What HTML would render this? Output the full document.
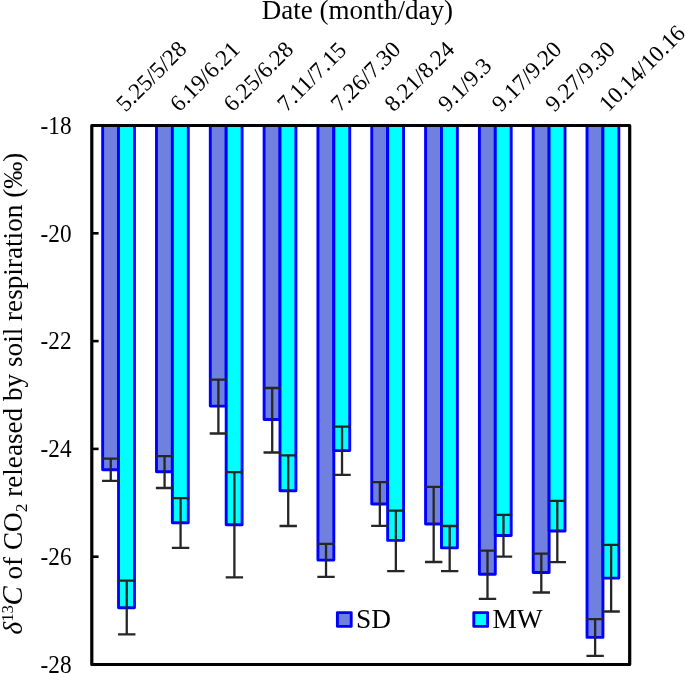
<!DOCTYPE html>
<html><head><meta charset="utf-8"><title>chart</title>
<style>
html,body{margin:0;padding:0;background:#fff;}
body{width:685px;height:673px;overflow:hidden;}
svg{display:block;will-change:transform;}
svg text{font-family:"Liberation Serif",serif;fill:#000;}
</style></head><body>
<svg width="685" height="673" viewBox="0 0 685 673">
<rect x="0" y="0" width="685" height="673" fill="#fff"/>
<g stroke="#0000FF" stroke-width="2.9" stroke-linejoin="round">
<rect x="102.65" y="125.50" width="15.90" height="344.20" fill="#7080DF"/>
<rect x="118.55" y="125.50" width="15.90" height="482.30" fill="#00FFFF"/>
<rect x="156.47" y="125.50" width="15.90" height="346.30" fill="#7080DF"/>
<rect x="172.37" y="125.50" width="15.90" height="397.20" fill="#00FFFF"/>
<rect x="210.29" y="125.50" width="15.90" height="280.60" fill="#7080DF"/>
<rect x="226.19" y="125.50" width="15.90" height="399.20" fill="#00FFFF"/>
<rect x="264.11" y="125.50" width="15.90" height="294.00" fill="#7080DF"/>
<rect x="280.01" y="125.50" width="15.90" height="365.25" fill="#00FFFF"/>
<rect x="317.93" y="125.50" width="15.90" height="434.60" fill="#7080DF"/>
<rect x="333.83" y="125.50" width="15.90" height="325.10" fill="#00FFFF"/>
<rect x="371.75" y="125.50" width="15.90" height="378.50" fill="#7080DF"/>
<rect x="387.65" y="125.50" width="15.90" height="414.90" fill="#00FFFF"/>
<rect x="425.57" y="125.50" width="15.90" height="398.50" fill="#7080DF"/>
<rect x="441.47" y="125.50" width="15.90" height="422.40" fill="#00FFFF"/>
<rect x="479.39" y="125.50" width="15.90" height="448.80" fill="#7080DF"/>
<rect x="495.29" y="125.50" width="15.90" height="410.00" fill="#00FFFF"/>
<rect x="533.21" y="125.50" width="15.90" height="447.00" fill="#7080DF"/>
<rect x="549.11" y="125.50" width="15.90" height="405.50" fill="#00FFFF"/>
<rect x="587.03" y="125.50" width="15.90" height="511.90" fill="#7080DF"/>
<rect x="602.93" y="125.50" width="15.90" height="452.60" fill="#00FFFF"/>
</g>
<g stroke="#262626" stroke-width="2.3" fill="none">
<path d="M102.05 458.70H119.45M102.05 480.80H119.45M110.75 458.70V480.80"/>
<path d="M118.05 580.70H135.45M118.05 634.40H135.45M126.75 580.70V634.40"/>
<path d="M155.87 456.05H173.27M155.87 488.00H173.27M164.57 456.05V488.00"/>
<path d="M171.87 498.10H189.27M171.87 547.90H189.27M180.57 498.10V547.90"/>
<path d="M209.69 379.60H227.09M209.69 433.50H227.09M218.39 379.60V433.50"/>
<path d="M225.69 472.10H243.09M225.69 577.30H243.09M234.39 472.10V577.30"/>
<path d="M263.51 388.00H280.91M263.51 452.50H280.91M272.21 388.00V452.50"/>
<path d="M279.51 455.35H296.91M279.51 526.00H296.91M288.21 455.35V526.00"/>
<path d="M317.33 543.80H334.73M317.33 576.80H334.73M326.03 543.80V576.80"/>
<path d="M333.33 426.60H350.73M333.33 474.90H350.73M342.03 426.60V474.90"/>
<path d="M371.15 482.20H388.55M371.15 525.80H388.55M379.85 482.20V525.80"/>
<path d="M387.15 510.70H404.55M387.15 571.10H404.55M395.85 510.70V571.10"/>
<path d="M424.97 486.80H442.37M424.97 562.00H442.37M433.67 486.80V562.00"/>
<path d="M440.97 526.00H458.37M440.97 571.10H458.37M449.67 526.00V571.10"/>
<path d="M478.79 550.60H496.19M478.79 598.90H496.19M487.49 550.60V598.90"/>
<path d="M494.79 514.80H512.19M494.79 556.70H512.19M503.49 514.80V556.70"/>
<path d="M532.61 553.60H550.01M532.61 592.50H550.01M541.31 553.60V592.50"/>
<path d="M548.61 500.90H566.01M548.61 562.20H566.01M557.31 500.90V562.20"/>
<path d="M586.43 619.06H603.83M586.43 655.80H603.83M595.13 619.06V655.80"/>
<path d="M602.43 544.90H619.83M602.43 611.50H619.83M611.13 544.90V611.50"/>
</g>
<rect x="91.80" y="125.50" width="537.90" height="539.00" fill="none" stroke="#000" stroke-width="3.2" stroke-linejoin="round"/>
<g stroke="#000" stroke-width="2.6">
<path d="M91.80 125.50H98.60"/>
<path d="M91.80 233.30H98.60"/>
<path d="M91.80 341.10H98.60"/>
<path d="M91.80 448.90H98.60"/>
<path d="M91.80 556.70H98.60"/>
<path d="M91.80 664.50H98.60"/>
</g>
<g font-size="24" text-anchor="end">
<text transform="translate(71.6 133.70) scale(0.968 1.06)">-18</text>
<text transform="translate(71.6 241.50) scale(0.968 1.06)">-20</text>
<text transform="translate(71.6 349.30) scale(0.968 1.06)">-22</text>
<text transform="translate(71.6 457.10) scale(0.968 1.06)">-24</text>
<text transform="translate(71.6 564.90) scale(0.968 1.06)">-26</text>
<text transform="translate(71.6 672.70) scale(0.968 1.06)">-28</text>
</g>
<g font-size="23.2">
<text transform="translate(125.55 112.80) rotate(-45)">5.25/5/28</text>
<text transform="translate(179.18 112.80) rotate(-45)">6.19/6.21</text>
<text transform="translate(232.81 112.80) rotate(-45)">6.25/6.28</text>
<text transform="translate(286.44 112.80) rotate(-45)">7.11/7.15</text>
<text transform="translate(340.07 112.80) rotate(-45)">7.26/7.30</text>
<text transform="translate(393.70 112.80) rotate(-45)">8.21/8.24</text>
<text transform="translate(447.33 112.80) rotate(-45)">9.1/9.3</text>
<text transform="translate(500.96 112.80) rotate(-45)">9.17/9.20</text>
<text transform="translate(554.59 112.80) rotate(-45)">9.27/9.30</text>
<text transform="translate(608.22 112.80) rotate(-45)">10.14/10.16</text>
</g>
<text x="357.4" y="18.8" font-size="27" text-anchor="middle">Date (month/day)</text>
<text transform="translate(22.3 634.5) rotate(-90)" font-size="27.2"><tspan font-style="italic">δ</tspan><tspan font-size="16.9" dy="-9.7">13</tspan><tspan font-style="italic" dy="9.7" dx="-0.6" font-size="28.8">C</tspan> of CO<tspan font-size="17.4" dy="5">2</tspan><tspan dy="-5"> released by soil respiration (‰)</tspan></text>
<g stroke="#0000FF" stroke-width="2.9" stroke-linejoin="round">
<rect x="337.4" y="612.6" width="13.8" height="13.8" fill="#7080DF"/>
<rect x="473.8" y="612.6" width="13.8" height="13.8" fill="#00FFFF"/>
</g>
<text x="356.0" y="627.8" font-size="27.4">SD</text>
<text x="492.4" y="627.8" font-size="27.4">MW</text>
</svg>
</body></html>
